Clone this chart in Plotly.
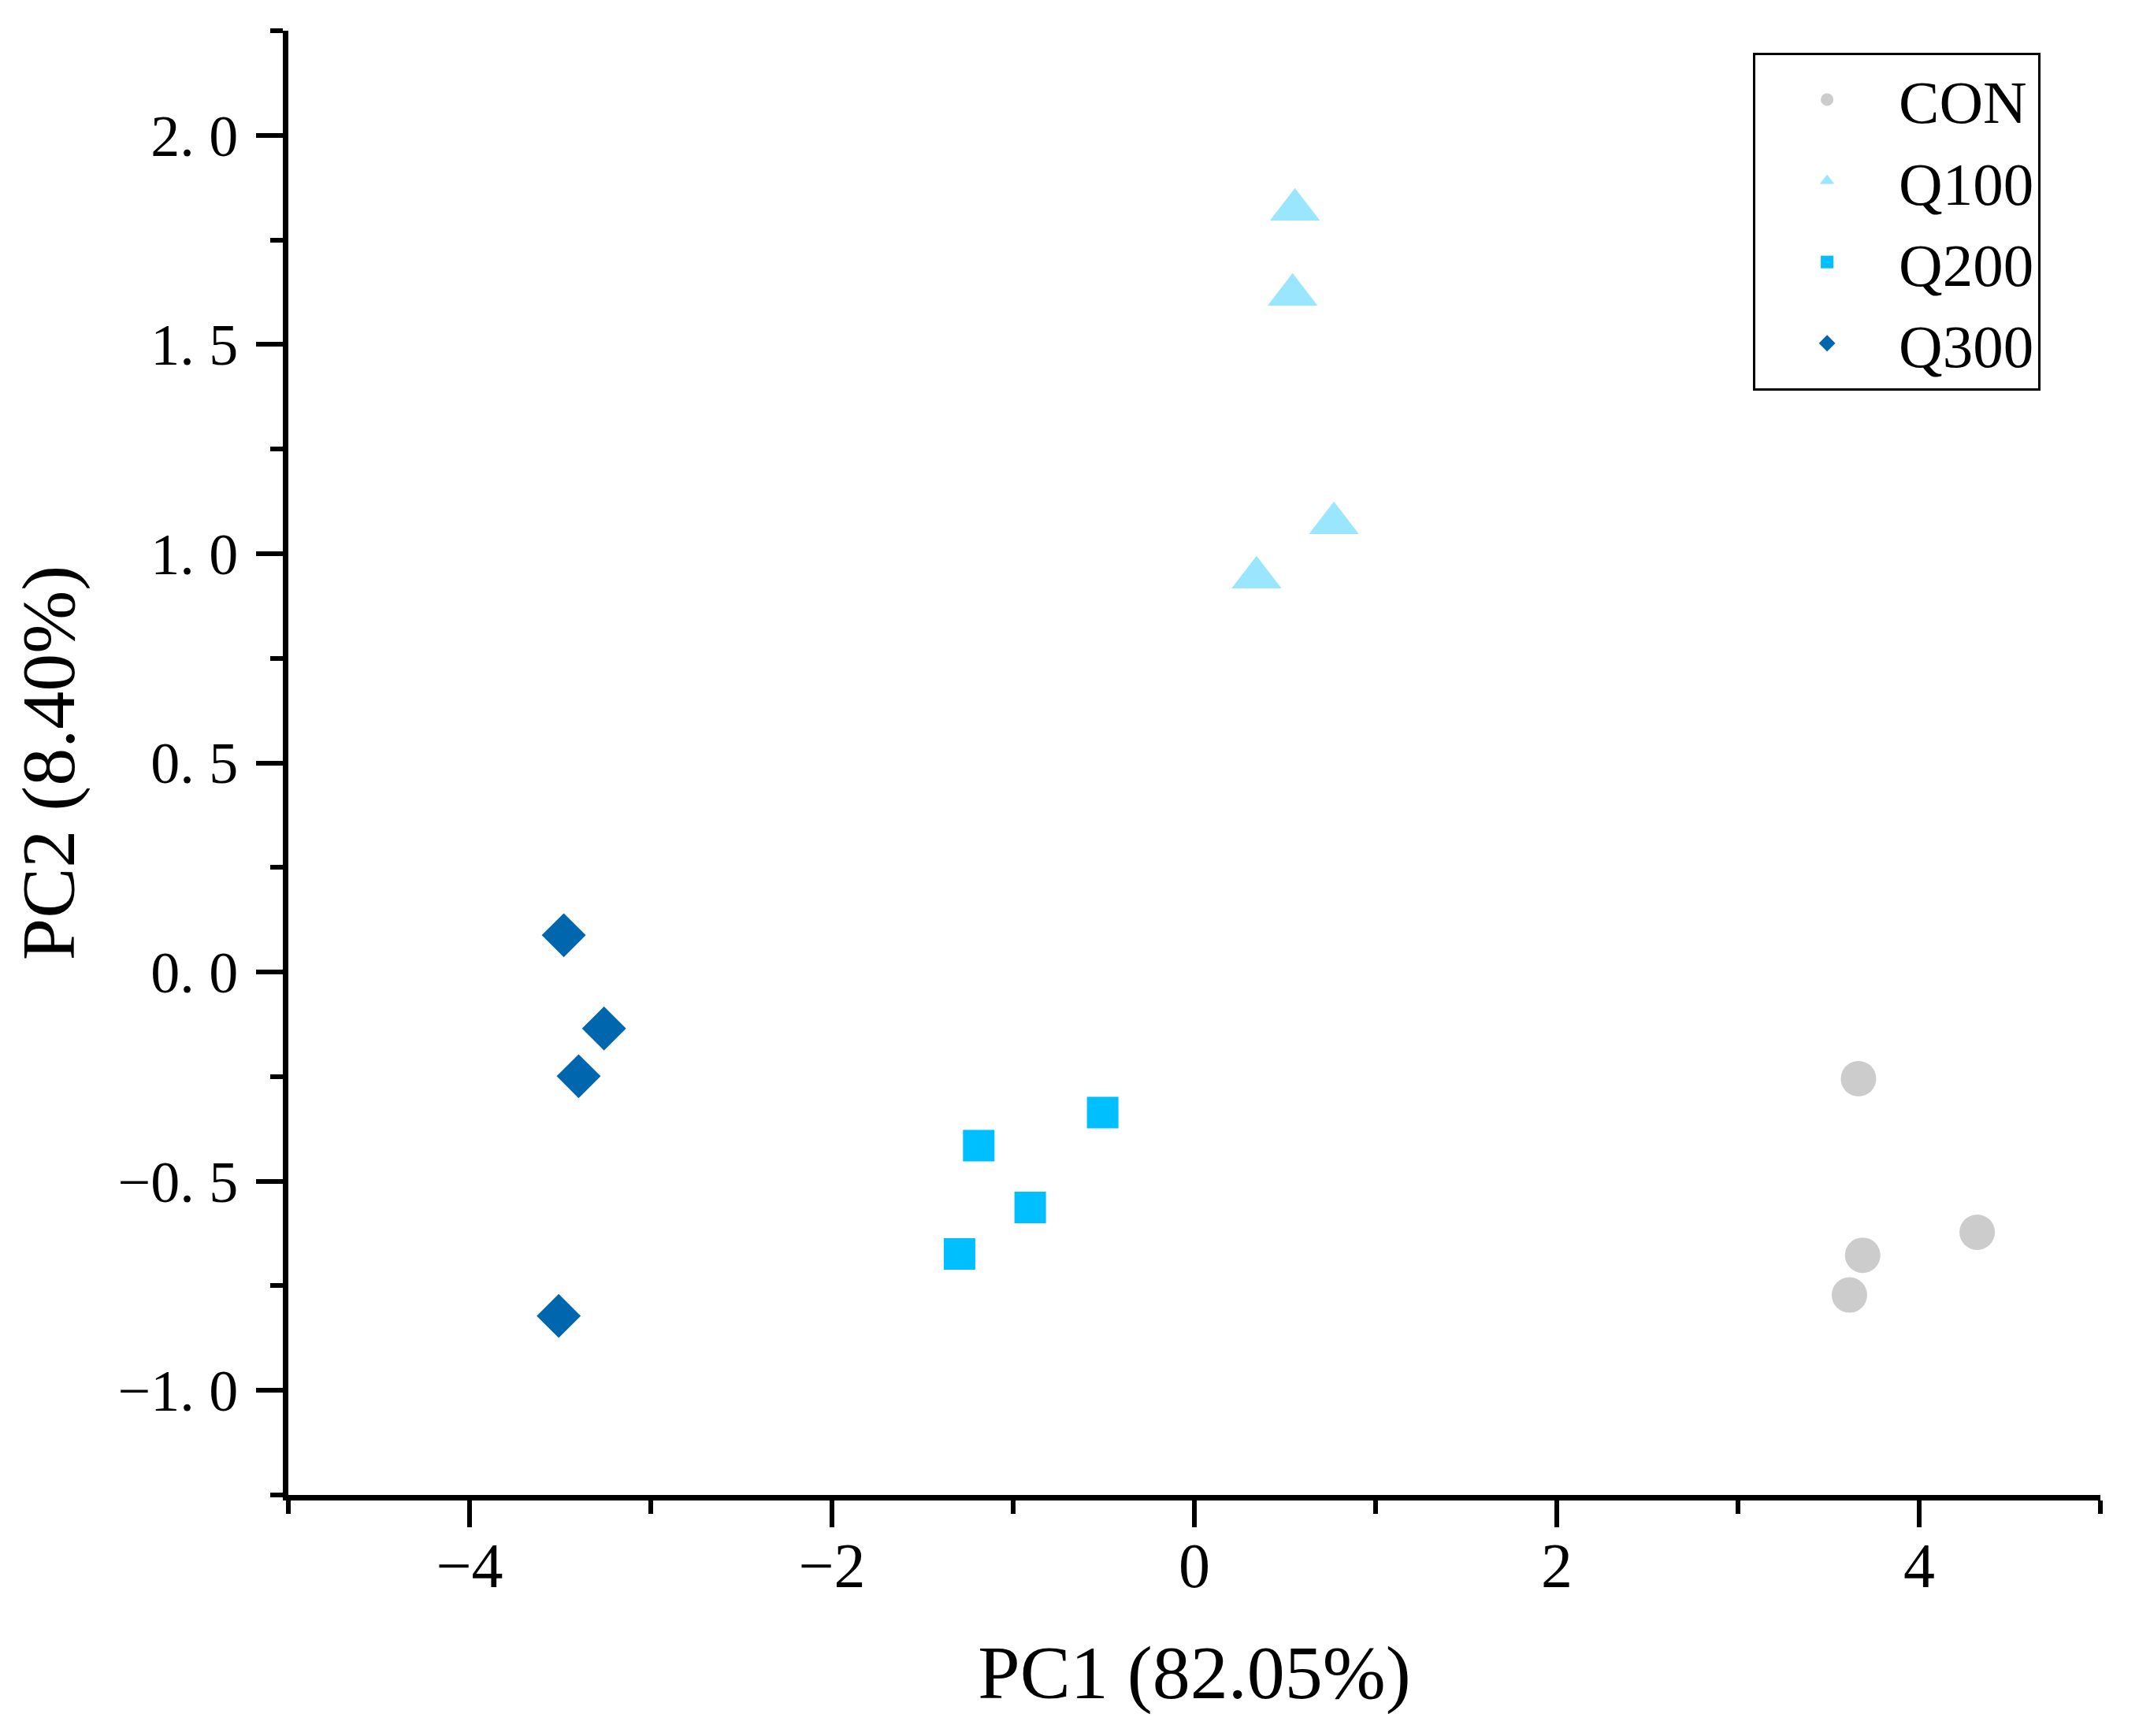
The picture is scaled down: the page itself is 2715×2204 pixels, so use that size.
import plotly.graph_objects as go

# PCA scores
con_x = [3.665, 4.320, 3.688, 3.615]
con_y = [-0.255, -0.622, -0.677, -0.772]

q100_x = [0.555, 0.542, 0.770, 0.343]
q100_y = [1.822, 1.619, 1.073, 0.943]

q200_x = [-0.506, -1.190, -0.906, -1.296]
q200_y = [-0.336, -0.415, -0.563, -0.674]

q300_x = [-3.480, -3.258, -3.398, -3.508]
q300_y = [0.088, -0.135, -0.249, -0.822]

x_ticks = [-4, -2, 0, 2, 4]
x_ticktext = ['\u22124', '\u22122', '0', '2', '4']
y_ticks = [-1.0, -0.5, 0.0, 0.5, 1.0, 1.5, 2.0]
y_ticktext = ['\u22121. 0', '\u22120. 5', '0. 0', '0. 5', '1. 0', '1. 5', '2. 0']

font_family = 'Liberation Serif, Times New Roman, serif'

fig = go.Figure()

fig.add_trace(go.Scatter(x=con_x, y=con_y, mode='markers', name='CON',
                         marker=dict(symbol='circle', size=45, color='#CCCCCC')))
fig.add_trace(go.Scatter(x=q100_x, y=q100_y, mode='markers', name='Q100',
                         marker=dict(symbol='triangle-up', size=55, color='#9BE6FF')))
fig.add_trace(go.Scatter(x=q200_x, y=q200_y, mode='markers', name='Q200',
                         marker=dict(symbol='square', size=40, color='#00BFFF')))
fig.add_trace(go.Scatter(x=q300_x, y=q300_y, mode='markers', name='Q300',
                         marker=dict(symbol='diamond', size=43, color='#0066AD')))

axis_common = dict(
    showgrid=False, zeroline=False,
    showline=True, linecolor='black', linewidth=7,
    ticks='outside', ticklen=34, tickwidth=6, tickcolor='black',
)

fig.update_xaxes(
    range=[-5, 5], tickvals=x_ticks, ticktext=x_ticktext,
    tickfont=dict(family=font_family, size=80, color='black'),
    ticklabelstandoff=-20,
    minor=dict(dtick=1, ticklen=17, tickwidth=6, tickcolor='black', ticks='outside'),
    title=dict(text='PC1 (82.05%)', font=dict(family=font_family, size=96, color='black'),
               standoff=60),
    **axis_common
)
fig.update_yaxes(
    range=[-1.25, 2.25], tickvals=y_ticks, ticktext=y_ticktext,
    tickfont=dict(family=font_family, size=74, color='black'),
    ticklabelstandoff=8,
    minor=dict(dtick=0.25, ticklen=16, tickwidth=6, tickcolor='black', ticks='outside'),
    title=dict(text='PC2 (8.40%)', font=dict(family=font_family, size=96, color='black'),
               standoff=27),
    **axis_common
)

fig.update_layout(
    width=2715, height=2204,
    margin=dict(l=358, r=57, t=31, b=314),
    plot_bgcolor='white', paper_bgcolor='white',
    showlegend=True,
    legend=dict(
        x=0.967, xanchor='right', y=0.985, yanchor='top',
        font=dict(family=font_family, size=77, color='black'),
        bordercolor='black', borderwidth=3, bgcolor='white',
        itemwidth=172,
    ),
)

fig.write_html("out.html")
